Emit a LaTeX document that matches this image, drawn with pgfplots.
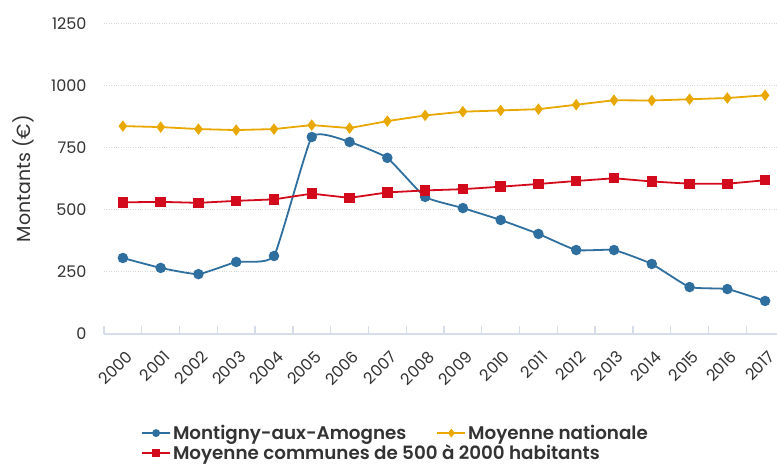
\documentclass[border=0pt]{standalone}
\usepackage{pgfplots}
\pgfplotsset{compat=1.18}
\usepackage{fontspec}
\setmainfont{Poppins}
\newfontfamily\legfont{Poppins SemiBold}
\definecolor{cblue}{HTML}{2F6F9F}
\definecolor{cyellow}{HTML}{E9A800}
\definecolor{cred}{HTML}{D30A1B}
\definecolor{ctext}{HTML}{333333}
\definecolor{caxis}{HTML}{D5DEE8}
\definecolor{cgrid}{HTML}{D8D8D8}
\begin{document}
\begin{tikzpicture}[x=1pt,y=1pt]
\useasboundingbox (-104,-134) rectangle (673,334);
\begin{axis}[
  at={(0,0)}, anchor=origin,
  scale only axis, width=680pt, height=310.5pt,
  xmin=1999.5, xmax=2017.5, ymin=0, ymax=1250,
  axis lines*=left,
  y axis line style={draw=none},
  x axis line style={draw=caxis, line width=1.3pt},
  xtick={2000,...,2017},
  minor xtick={1999.5,2000.5,...,2016.5},
  major x tick style={draw=none},
  minor x tick style={draw=caxis, line width=1.3pt},
  minor tick length=8pt,
  ytick={0,250,500,750,1000,1250},
  major y tick style={draw=none},
  ymajorgrids, grid style={cgrid, dotted, line width=0.9pt},
  /pgf/number format/assume math mode=true,
  /pgf/number format/1000 sep={},
  tick label style={font=\fontsize{16}{17}\selectfont, text=ctext},
  xticklabel style={rotate=45, anchor=north east, inner sep=0pt, xshift=-9.5pt, yshift=-12.5pt},
  yticklabel style={anchor=east, xshift=-14pt},
  ylabel={Montants (€)},
  ylabel style={font=\fontsize{19}{20}\selectfont, text=ctext, at={(rel axis cs:0,0.5)}, anchor=south, yshift=66pt, rotate=0},
  clip=false,
  legend columns=2,
  legend cell align=left,
  legend style={draw=none, fill=none, at={(0.05,-0.28)}, anchor=north west,
    font=\legfont\fontsize{18.3}{23}\selectfont, text=ctext, row sep=0pt,
    /tikz/every even column/.append style={column sep=28pt}},
  legend image code/.code={
    \draw[#1, line width=1.8pt, mark size=3pt, mark repeat=2, mark phase=2] plot coordinates {(0pt,0pt) (14pt,0pt) (28pt,0pt)};
  },
]
\addplot[cblue, line width=1.8pt, smooth, tension=0.25, mark=*, mark size=4.3pt, mark options={solid, fill=cblue}] coordinates {
(2000,306) (2001,266) (2002,241) (2003,290) (2004,314) (2005,793) (2006,773) (2007,709) (2008,552) (2009,507) (2010,459) (2011,403) (2012,338) (2013,338) (2014,282) (2015,189) (2016,181) (2017,133)};
\addlegendentry{Montigny-aux-Amognes}
\addplot[cyellow, line width=1.8pt, mark=diamond*, mark size=4.3pt, mark options={solid, fill=cyellow}] coordinates {
(2000,837) (2001,833) (2002,825) (2003,821) (2004,825) (2005,841) (2006,829) (2007,857) (2008,880) (2009,895) (2010,900) (2011,905) (2012,923) (2013,941) (2014,940) (2015,945) (2016,950) (2017,961)};
\addlegendentry{Moyenne nationale}
\addplot[cred, line width=1.8pt, mark=square*, mark size=4.3pt, mark options={solid, fill=cred}] coordinates {
(2000,530) (2001,532) (2002,528) (2003,536) (2004,542) (2005,565) (2006,548) (2007,570) (2008,578) (2009,583) (2010,593) (2011,604) (2012,616) (2013,627) (2014,614) (2015,605) (2016,605) (2017,619)};
\addlegendentry{\makebox[0pt][l]{Moyenne communes de 500 à 2000 habitants}}
\end{axis}
\end{tikzpicture}
\end{document}
